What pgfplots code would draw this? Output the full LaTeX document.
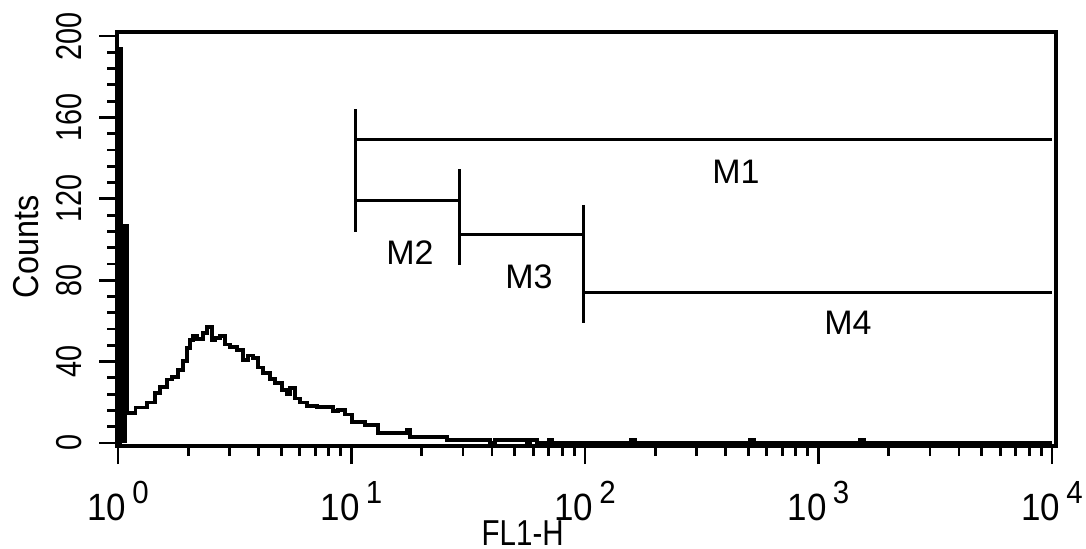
\documentclass[border=0pt]{standalone}
\usepackage{fontspec}
\setmainfont{Liberation Sans}
\usepackage{graphicx}
\usepackage{pgfplots}
\pgfplotsset{compat=1.18}
\newcommand\xl[1]{\rule{0pt}{28pt}\scalebox{0.92}[1]{10}\hspace{3pt}\raisebox{8.5pt}{\fontsize{16}{16}\selectfont\scalebox{0.92}[1]{#1}}}
\newcommand\sy[1]{\scalebox{0.8}[1]{#1}}
\begin{document}
\begin{tikzpicture}
\begin{axis}[
  scale only axis, width=469.5pt, height=207pt,
  xmode=log, xmin=0.99, xmax=10402, ymin=-1.5, ymax=202,
  clip=false,
  axis line style={line width=1.6pt},
  tick align=outside, tick pos=left,
  major tick length=9pt, minor tick length=5pt,
  tick style={line width=1.4pt, black},
  xtick={1,10,100,1000,10000},
  xticklabels={\xl{0},\xl{1},\xl{2},\xl{3},\xl{4}},
  minor xtick={2,3,4,5,6,7,8,9,20,30,40,50,60,70,80,90,200,300,400,500,600,700,800,900,2000,3000,4000,5000,6000,7000,8000,9000},
  ytick={0,40,80,120,160,200},
  minor y tick num=4,
  yticklabels={\sy{0},\sy{40},\sy{80},\sy{120},\sy{160},\sy{200}},
  xticklabel style={font=\fontsize{19}{19}\selectfont, inner sep=0pt, anchor=north},
  yticklabel style={font=\fontsize{18}{18}\selectfont, inner sep=0pt, xshift=-8.5pt, rotate=90, anchor=south},
  ylabel={\scalebox{0.9}[1]{Counts}},
  ylabel style={font=\fontsize{18}{18}\selectfont, at={(axis description cs:-0.097,0.481)}, anchor=center},
]
\addplot[const plot, line width=1.6pt] coordinates {
(0.99,0)(1.024,194)(1.032,107)(1.093,14.7)(1.19,17.5)(1.33,20)(1.44,24.6)(1.513,27.5)(1.621,31)(1.703,32.4)(1.807,35.9)(1.898,40.3)(1.975,46.7)(2.034,50.6)(2.096,52.6)(2.18,51.1)(2.312,54)(2.405,57)(2.527,50.6)(2.603,51.6)(2.735,52.6)(2.873,48.2)(3.018,47.2)(3.234,45.7)(3.43,40.8)(3.603,42.8)(3.786,41.8)(3.978,36.9)(4.178,34.4)(4.477,31.4)(4.703,29.5)(5.04,26)(5.295,24.1)(5.454,27)(5.729,22)(6.018,19.7)(6.449,18.2)(7.115,17.7)(8.333,15.7)(8.753,16.2)(9.38,13.8)(10.05,10.3)(11.42,8.8)(12.99,4.9)(17.29,6.4)(17.81,2.9)(25.64,1.5)(39.19,0)(41.17,1.5)(56.44,0)(58.14,1.5)(62.29,0)(70.14,1.5)(72.24,0)(157.4,1.5)(163.7,0)(508.9,1.5)(529.4,0)(1505,1.5)(1566,0)(10000,0)
};
\addplot[fill=black, draw=none] coordinates {(1.035,0)(1.035,107)(1.093,107)(1.093,0)};
% markers
\addplot[line width=1.5pt] coordinates {(10.35,164.1)(10.35,103.7)};
\addplot[line width=1.5pt] coordinates {(10.35,149.4)(10000,149.4)};
\addplot[line width=1.5pt] coordinates {(10.35,119.4)(28.87,119.4)};
\addplot[line width=1.5pt] coordinates {(28.87,134.6)(28.87,87.5)};
\addplot[line width=1.5pt] coordinates {(28.87,102.7)(99,102.7)};
\addplot[line width=1.5pt] coordinates {(99,117)(99,59)};
\addplot[line width=1.5pt] coordinates {(99,74.2)(10000,74.2)};
\node[font=\fontsize{17}{17}\selectfont] at (axis cs:443,133.2) {M1};
\node[font=\fontsize{17}{17}\selectfont] at (axis cs:17.8,93.4) {M2};
\node[font=\fontsize{17}{17}\selectfont] at (axis cs:57.5,81.6) {M3};
\node[font=\fontsize{17}{17}\selectfont] at (axis cs:1337,59) {M4};
\node[font=\fontsize{18}{18}\selectfont, anchor=center, inner sep=0pt] at (axis description cs:0.432,-0.21) {\scalebox{0.82}[1]{FL1-H}};
\end{axis}
\pgfresetboundingbox
\path ([shift={(-58.5pt,-51pt)}]current axis.south west) rectangle ([shift={(15pt,16pt)}]current axis.north east);
\end{tikzpicture}
\end{document}
